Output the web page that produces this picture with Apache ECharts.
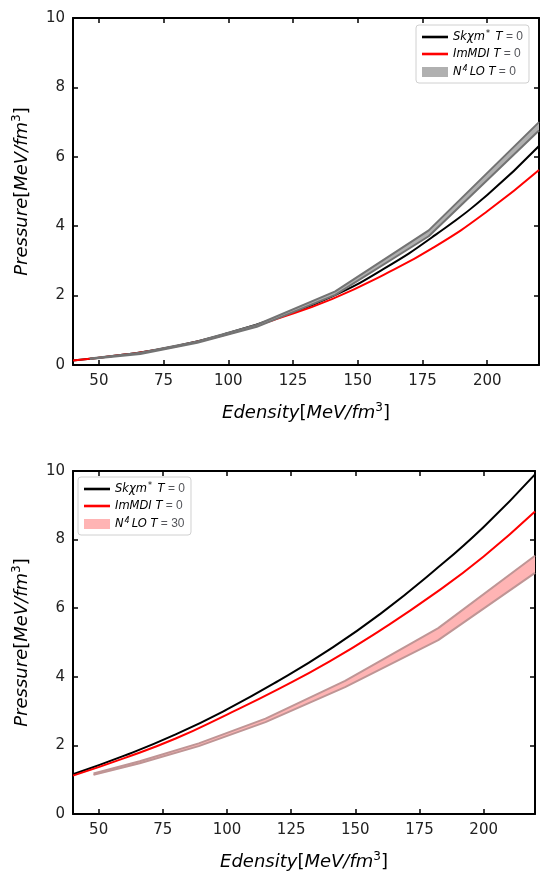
<!DOCTYPE html>
<html lang="en">
<head>
    <meta charset="UTF-8">
    <title></title>
    <style type="text/css">
        html,
        body,
        .canvas {
            padding: 0;
            margin: 0;
            overflow: hidden;
            background-color: #fff;
            width: 100%;
            height: 100%;
        }
    </style>
</head>
<body>
<div class="canvas" id="chart"></div>
<script type="text/javascript" src="https://cdn.jsdelivr.net/npm/echarts@6/dist/echarts.min.js"></script>
<script>
    // energy density grid for the smooth curves
    const curveX = [40, 60, 80, 100, 120, 140, 160, 180, 200, 220];
    // top panel, T = 0
    const topSk = [0.13, 0.30, 0.55, 0.92, 1.39, 1.97, 2.77, 3.75, 4.90, 6.31];
    const topIm = [0.13, 0.30, 0.54, 0.90, 1.36, 1.90, 2.60, 3.42, 4.43, 5.62];
    const topBandX = [46.5, 66, 88, 111, 141.3, 177.4, 220];
    const topBandLo = [0.17, 0.32, 0.64, 1.10, 2.02, 3.71, 6.76];
    const topBandHi = [0.19, 0.35, 0.68, 1.16, 2.12, 3.88, 7.00];
    // bottom panel
    const botSk = [1.16, 1.70, 2.32, 3.05, 3.88, 4.80, 5.85, 7.05, 8.37, 9.90];
    const botIm = [1.12, 1.63, 2.20, 2.90, 3.64, 4.45, 5.37, 6.38, 7.51, 8.82];
    const botBandX = [48, 66, 89, 115, 146, 182.3, 220];
    const botBandLo = [1.14, 1.48, 1.98, 2.68, 3.70, 5.07, 7.03];
    const botBandHi = [1.18, 1.54, 2.06, 2.78, 3.88, 5.42, 7.53];

    const xTicks = [50, 75, 100, 125, 150, 175, 200];

    const FONT = 'DejaVu Sans';
    // thin bar centred in the legend icon box
    const LINE_ICON = 'path://M0,0L0,0M0,3.7L26,3.7L26,6.3L0,6.3ZM26,10L26,10';

    function pairs(xs, ys) {
        return xs.map(function (x, i) { return [x, ys[i]]; });
    }

    function triples(xs, lo, hi) {
        return xs.map(function (x, i) { return [x, lo[i], hi[i]]; });
    }

    const legendNames = {
        sk0: '{i|Skχm}{s|*}{i| T} = 0',
        im0: '{i|ImMDI T} = 0',
        n0: '{i|N}{s|4}{i|LO T} = 0',
        sk1: '{i|Skχm}{s|*}{i| T} = 0',
        im1: '{i|ImMDI T} = 0',
        n1: '{i|N}{s|4}{i|LO T} = 30'
    };

    const legendRich = {
        i: {fontFamily: FONT, fontStyle: 'italic', fontSize: 11.5, color: '#000'},
        s: {fontFamily: FONT, fontStyle: 'italic', fontSize: 8, color: '#000', verticalAlign: 'top', padding: [0, 2, 6, 1]}
    };

    const nameRich = {
        i: {fontFamily: FONT, fontStyle: 'italic', fontSize: 18, color: '#000'},
        n: {fontFamily: FONT, fontSize: 18, color: '#000'},
        s: {fontFamily: FONT, fontSize: 12, color: '#000', padding: [0, 0, 10, 0]}
    };

    function xAxisPair(grid) {
        const base = {
            type: 'value', gridIndex: grid, min: 40, max: 220,
            splitLine: {show: false},
            axisLine: {show: true, onZero: false, lineStyle: {color: '#000', width: 2}},
            axisTick: {show: true, inside: true, length: 5, customValues: xTicks, lineStyle: {color: '#000', width: 1.5}}
        };
        return [
            Object.assign({}, base, {
                position: 'bottom',
                axisLabel: {customValues: xTicks, fontFamily: FONT, fontSize: 15, color: '#222', margin: 9},
                name: '{i|Edensity}{n|[}{i|MeV/fm}{s|3}{n|]}',
                nameLocation: 'middle', nameGap: 37,
                nameTextStyle: {rich: nameRich}
            }),
            Object.assign({}, base, {position: 'top', axisLabel: {show: false}})
        ];
    }

    function yAxisPair(grid) {
        const base = {
            type: 'value', gridIndex: grid, min: 0, max: 10, interval: 2,
            splitLine: {show: false},
            axisLine: {show: true, onZero: false, lineStyle: {color: '#000', width: 2}},
            axisTick: {show: true, inside: true, length: 5, lineStyle: {color: '#000', width: 1.5}}
        };
        return [
            Object.assign({}, base, {
                position: 'left',
                axisLabel: {fontFamily: FONT, fontSize: 15, color: '#222', margin: 8},
                name: '{i|Pressure}{n|[}{i|MeV/fm}{s|3}{n|]}',
                nameLocation: 'middle', nameGap: 40, nameRotate: 90,
                nameTextStyle: {rich: nameRich}
            }),
            Object.assign({}, base, {position: 'right', axisLabel: {show: false}})
        ];
    }

    function curve(name, data, color, xi, yi) {
        return {
            name: name, type: 'line', data: data, smooth: 0.5, symbol: 'none',
            xAxisIndex: xi, yAxisIndex: yi, z: 3,
            lineStyle: {color: color, width: 2}, itemStyle: {color: color}
        };
    }

    // filled band: polygon upper edge forward, lower edge back
    function band(name, xs, lo, hi, fill, edge, xi, yi) {
        return {
            name: name, type: 'custom', xAxisIndex: xi, yAxisIndex: yi, z: 4,
            itemStyle: {color: fill},
            data: triples(xs, lo, hi),
            encode: {x: 0, y: [1, 2]},
            renderItem: function (params, api) {
                if (params.dataIndex !== 0) return;
                const up = [], dn = [];
                for (let i = 0; i < xs.length; i++) {
                    up.push(api.coord([xs[i], hi[i]]));
                    dn.push(api.coord([xs[i], lo[i]]));
                }
                const poly = up.concat(dn.slice().reverse());
                const lineStyle = {fill: null, stroke: edge, lineWidth: 2, lineJoin: 'round'};
                return {
                    type: 'group',
                    children: [
                        {type: 'polygon', shape: {points: poly}, style: {fill: fill, stroke: null}},
                        {type: 'polyline', shape: {points: dn}, style: lineStyle},
                        {type: 'polyline', shape: {points: up}, style: lineStyle}
                    ]
                };
            }
        };
    }

    function legendBox(names, pos, fill) {
        return Object.assign({
            orient: 'vertical', z: 20,
            itemWidth: 26, itemHeight: 10, itemGap: 5,
            padding: [5, 6, 5, 6],
            borderColor: '#d0d0d0', borderWidth: 1, borderRadius: 3,
            backgroundColor: 'rgba(255,255,255,0.8)',
            textStyle: {rich: legendRich},
            formatter: function (n) { return legendNames[n]; },
            data: [
                {name: names[0], icon: LINE_ICON, itemStyle: {color: '#000'}},
                {name: names[1], icon: LINE_ICON, itemStyle: {color: '#ff0000'}},
                {name: names[2], icon: 'rect', itemStyle: {color: fill}}
            ],
            selectedMode: false
        }, pos);
    }

    const chart = echarts.init(document.getElementById('chart'), null, {renderer: 'canvas'});

    const option = {
        animation: false,
        backgroundColor: '#fff',
        grid: [
            {left: 73, top: 18, width: 466, height: 347},
            {left: 73, top: 471, width: 462, height: 344}
        ],
        xAxis: xAxisPair(0).concat(xAxisPair(1)),
        yAxis: yAxisPair(0).concat(yAxisPair(1)),
        legend: [
            legendBox(['sk0', 'im0', 'n0'], {left: 416, top: 25}, '#b0b0b0'),
            legendBox(['sk1', 'im1', 'n1'], {left: 78, top: 477}, '#ffb4b4')
        ],
        series: [
            curve('sk0', pairs(curveX, topSk), '#000', 0, 0),
            curve('im0', pairs(curveX, topIm), '#ff0000', 0, 0),
            band('n0', topBandX, topBandLo, topBandHi, '#b0b0b0', '#737373', 0, 0),
            curve('sk1', pairs(curveX, botSk), '#000', 2, 2),
            curve('im1', pairs(curveX, botIm), '#ff0000', 2, 2),
            band('n1', botBandX, botBandLo, botBandHi, '#ffb4b4', '#bf9595', 2, 2)
        ]
    };

    chart.setOption(option);
</script>
</body>
</html>
